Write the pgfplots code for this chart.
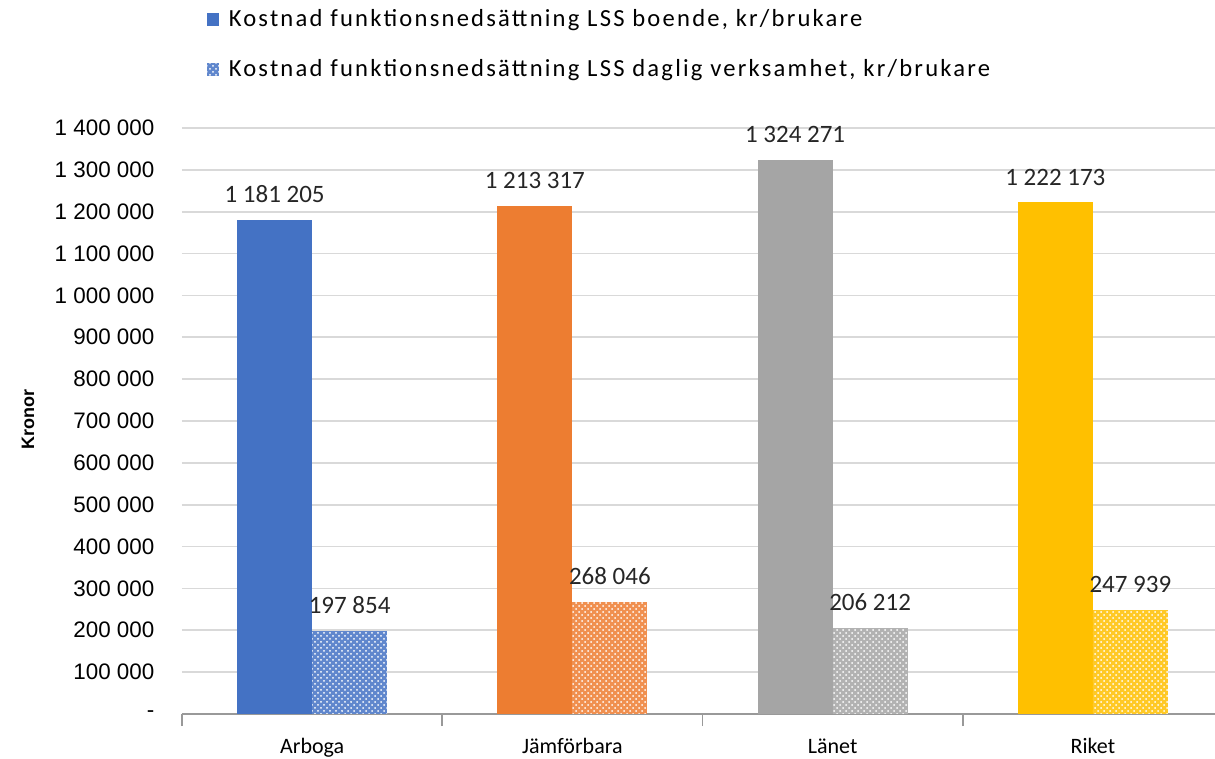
\documentclass[border=0pt]{standalone}
\usepackage{pgfplots}
\pgfplotsset{compat=1.18}
\usepackage{fontspec}
\setmainfont{Carlito}
\newfontfamily\arialfont{Liberation Sans}
\newfontfamily\legfont[LetterSpace=9]{Carlito}
\usetikzlibrary{patterns}

\definecolor{cblue}{HTML}{4472C4}
\definecolor{corange}{HTML}{ED7D31}
\definecolor{cgray}{HTML}{A5A5A5}
\definecolor{cgold}{HTML}{FFC000}
\definecolor{gridgray}{HTML}{D9D9D9}

\pgfplotsset{
  solidbar/.style={fill=#1, draw=none, bar shift=-18.75pt},
  patbar/.style={fill=#1!85!white, draw=none, bar shift=18.75pt,
    postaction={pattern=crosshatch dots, pattern color=white}},
}

\begin{document}
\begin{tikzpicture}
\path[use as bounding box] (-91pt,-22.5pt) rectangle (516.5pt,357pt);
\begin{axis}[
    at={(0,0)}, anchor=south west,
    scale only axis,
    width=520.5pt, height=293pt,
    ybar,
    bar width=37.5pt,
    xmin=-0.5, xmax=3.5,
    ymin=0, ymax=1400000,
    scaled y ticks=false,
    xtick={0,1,2,3},
    xticklabels={Arboga, Jämförbara, Länet, Riket},
    major x tick style={draw=none},
    minor xtick={-0.5,0.5,1.5,2.5,3.5},
    minor x tick style={draw=gray!80, line width=0.8pt},
    minor tick length=6pt,
    tick align=outside,
    xticklabel style={font=\fontsize{11}{13}\selectfont, yshift=-4.5pt},
    ytick={0,100000,...,1400000},
    yticklabels={-, 100 000, 200 000, 300 000, 400 000, 500 000, 600 000, 700 000, 800 000, 900 000, 1 000 000, 1 100 000, 1 200 000, 1 300 000, 1 400 000},
    yticklabel style={font=\arialfont\fontsize{11.2}{13}\selectfont, xshift=-6pt},
    major y tick style={draw=none},
    ymajorgrids,
    grid style={gridgray, line width=0.8pt},
    axis x line*=bottom,
    axis y line*=left,
    x axis line style={draw=gray!80, line width=0.8pt, -},
    y axis line style={draw=none},
    ylabel={\textbf{Kronor}},
    every axis y label/.style={at={(axis description cs:-0.148,0.502)}, rotate=90, anchor=center},
    ylabel style={font=\arialfont\fontsize{9}{10}\selectfont},
    clip=false,
    nodes near coords,
    point meta=explicit symbolic,
    every node near coord/.append style={font=\fontsize{12.5}{14}\selectfont, text=black!85, yshift=5pt},
    legend style={at={(axis description cs:0.024,1.21)}, anchor=north west,
      draw=none, fill=none, inner sep=0pt,
      font=\legfont\fontsize{12.3}{14}\selectfont, row sep=11pt,
      legend cell align=left},
    legend image code/.code={\fill[#1] (0cm,-0.11cm) rectangle (0.2cm,0.11cm);},
]
\addplot[solidbar=cblue] coordinates {(0,1181205) [1 181 205]};
\addlegendentry{\hspace*{3pt}Kostnad funktionsnedsättning LSS boende, kr/brukare}
\addplot[patbar=cblue] coordinates {(0,197854) [197 854]};
\addlegendentry{\hspace*{3pt}Kostnad funktionsnedsättning LSS daglig verksamhet, kr/brukare}
\addplot[solidbar=corange, forget plot] coordinates {(1,1213317) [1 213 317]};
\addplot[patbar=corange, forget plot] coordinates {(1,268046) [268 046]};
\addplot[solidbar=cgray, forget plot] coordinates {(2,1324271) [1 324 271]};
\addplot[patbar=cgray, forget plot] coordinates {(2,206212) [206 212]};
\addplot[solidbar=cgold, forget plot] coordinates {(3,1222173) [1 222 173]};
\addplot[patbar=cgold, forget plot] coordinates {(3,247939) [247 939]};
\end{axis}
\end{tikzpicture}
\end{document}
